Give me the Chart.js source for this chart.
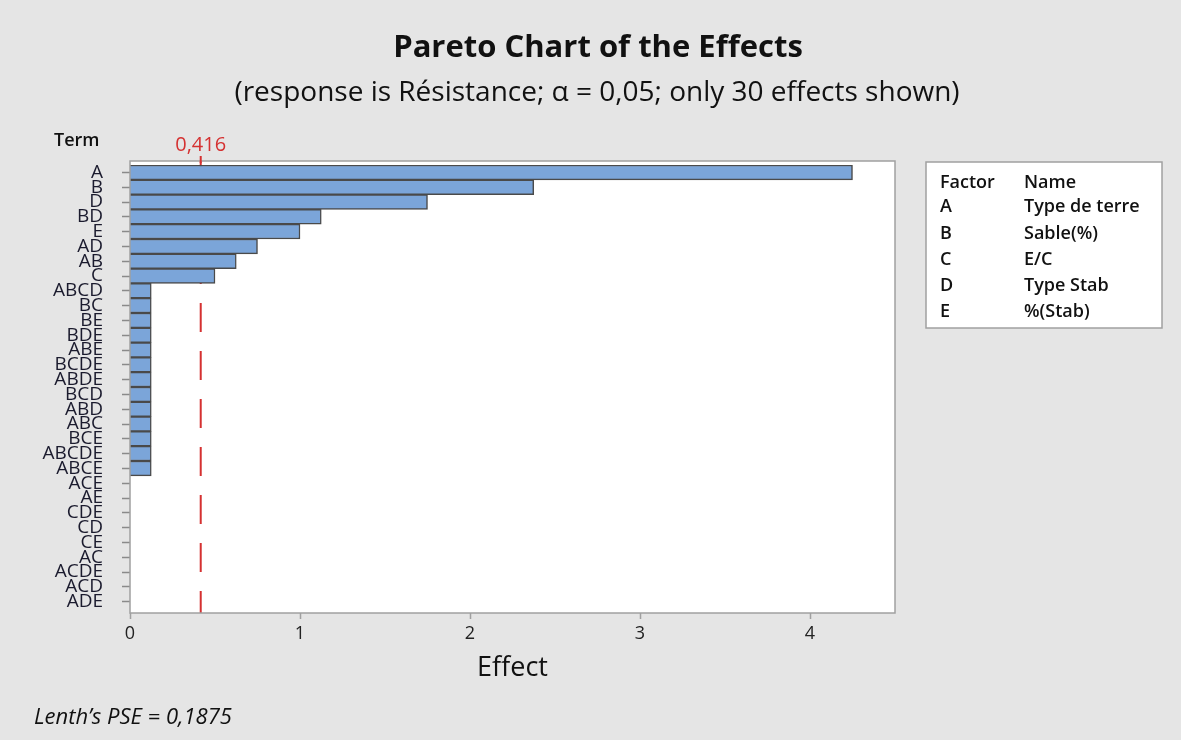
<!DOCTYPE html>
<html>
<head>
<meta charset="utf-8">
<script src="https://cdn.jsdelivr.net/npm/chart.js@4"></script>
<style>
  body { margin: 0; background: #e5e5e5; }
  #wrap { width: 1181px; height: 740px; }
</style>
</head>
<body>
<div id="wrap"><canvas id="paretoChart"></canvas></div>
<script>
// terms in the order shown (largest effect first)
const terms = ['A','B','D','BD','E','AD','AB','C','ABCD','BC','BE','BDE','ABE','BCDE','ABDE',
  'BCD','ABD','ABC','BCE','ABCDE','ABCE','ACE','AE','CDE','CD','CE','AC','ACDE','ACD','ADE'];
const effects = [4.25, 2.375, 1.75, 1.125, 1.0, 0.75, 0.625, 0.5,
  0.125, 0.125, 0.125, 0.125, 0.125, 0.125, 0.125, 0.125, 0.125, 0.125, 0.125, 0.125, 0.125,
  0, 0, 0, 0, 0, 0, 0, 0, 0];
const xTicks = [0, 1, 2, 3, 4];
const refLine = 0.416;
const factors = ['A','B','C','D','E'];
const factorNames = ['Type de terre','Sable(%)','E/C','Type Stab','%(Stab)'];

const FONT = "'Open Sans', 'Noto Sans', sans-serif";
const RED = '#d53131';

const decorations = {
  id: 'decorations',
  beforeDraw(chart) {
    const ctx = chart.ctx, a = chart.chartArea;
    ctx.save();
    ctx.fillStyle = '#e5e5e5';
    ctx.fillRect(0, 0, chart.width, chart.height);
    ctx.fillStyle = '#ffffff';
    ctx.fillRect(a.left, 161, a.right - a.left, 613 - 161);
    ctx.restore();
  },
  beforeDatasetsDraw(chart) {
    // significance line sits behind the bars
    const ctx = chart.ctx, x = chart.scales.x.getPixelForValue(refLine);
    ctx.save();
    ctx.strokeStyle = RED;
    ctx.lineWidth = 2;
    ctx.setLineDash([29, 19]);
    ctx.lineDashOffset = 2;
    ctx.beginPath();
    ctx.moveTo(x, 161);
    ctx.lineTo(x, 613);
    ctx.stroke();
    ctx.restore();
  },
  afterDraw(chart) {
    const ctx = chart.ctx, a = chart.chartArea, xs = chart.scales.x;
    ctx.save();
    // plot frame
    ctx.strokeStyle = '#a0a0a0';
    ctx.lineWidth = 1.5;
    ctx.strokeRect(a.left, 161, a.right - a.left, 613 - 161);
    // x tick marks below the frame
    ctx.beginPath();
    xs.ticks.forEach(t => {
      const px = Math.round(xs.getPixelForValue(t.value)) + 0.5;
      ctx.moveTo(px, 613);
      ctx.lineTo(px, 619);
    });
    ctx.stroke();
    // red tick + value label on top
    const rx = xs.getPixelForValue(refLine);
    ctx.strokeStyle = RED;
    ctx.lineWidth = 2;
    ctx.beginPath();
    ctx.moveTo(rx, 156);
    ctx.lineTo(rx, 163);
    ctx.stroke();
    ctx.fillStyle = RED;
    ctx.font = '20px ' + FONT;
    ctx.textAlign = 'center';
    ctx.textBaseline = 'middle';
    ctx.fillText('0,416', rx, 145);

    // titles
    ctx.fillStyle = '#111';
    ctx.font = 'bold 31px ' + FONT;
    ctx.fillText('Pareto Chart of the Effects', 598, 48);
    ctx.font = '28px ' + FONT;
    ctx.fillText('(response is Résistance; \u03B1 = 0,05; only 30 effects shown)', 597, 93);

    ctx.textAlign = 'left';
    ctx.font = '600 18px ' + FONT;
    ctx.fillText('Term', 54, 141);

    ctx.font = 'italic 22px ' + FONT;
    ctx.fillText('Lenth\u2019s PSE = 0,1875', 34, 718);

    // factor legend box
    ctx.fillStyle = '#ffffff';
    ctx.fillRect(926, 162, 236, 166);
    ctx.strokeStyle = '#a0a0a0';
    ctx.lineWidth = 1.5;
    ctx.strokeRect(926, 162, 236, 166);
    ctx.fillStyle = '#111';
    ctx.font = '600 18px ' + FONT;
    ctx.fillText('Factor', 940, 183);
    ctx.fillText('Name', 1024, 183);
    const rowY = [207, 234, 260, 286, 312];
    factors.forEach((f, i) => {
      ctx.fillText(f, 940, rowY[i]);
      ctx.fillText(factorNames[i], 1024, rowY[i]);
    });
    ctx.restore();
  }
};

new Chart(document.getElementById('paretoChart'), {
  type: 'bar',
  data: {
    labels: terms,
    datasets: [{
      data: effects,
      backgroundColor: '#7ba5d9',
      borderColor: '#4a4a4a',
      borderWidth: 1.5,
      barPercentage: 1.0,
      categoryPercentage: 1.0
    }]
  },
  options: {
    indexAxis: 'y',
    responsive: true,
    maintainAspectRatio: false,
    animation: false,
    layout: { padding: { top: 165, right: 286, bottom: 0, left: 0 } },
    plugins: {
      legend: { display: false },
      tooltip: { enabled: false }
    },
    scales: {
      x: {
        min: 0,
        max: 4.5,
        afterFit(scale) { scale.height = 131; },
        afterBuildTicks(scale) {
          scale.ticks = xTicks.map(v => ({ value: v }));
        },
        grid: { display: false, drawTicks: false },
        border: { display: false },
        ticks: {
          padding: 14,
          color: '#222',
          font: { family: FONT, size: 18 }
        },
        title: {
          display: true,
          text: 'Effect',
          color: '#111',
          font: { family: FONT, size: 27 },
          padding: { bottom: 55 }
        }
      },
      y: {
        afterFit(scale) { scale.width = 130; },
        grid: {
          offset: false,
          drawOnChartArea: false,
          tickLength: 8,
          tickColor: '#8a8a8a',
          tickWidth: 1.5
        },
        border: { display: false },
        ticks: {
          autoSkip: false,
          padding: 19,
          color: '#1b1b2e',
          font: { family: FONT, size: 19, lineHeight: 1 }
        }
      }
    }
  },
  plugins: [decorations]
});
</script>
</body>
</html>
